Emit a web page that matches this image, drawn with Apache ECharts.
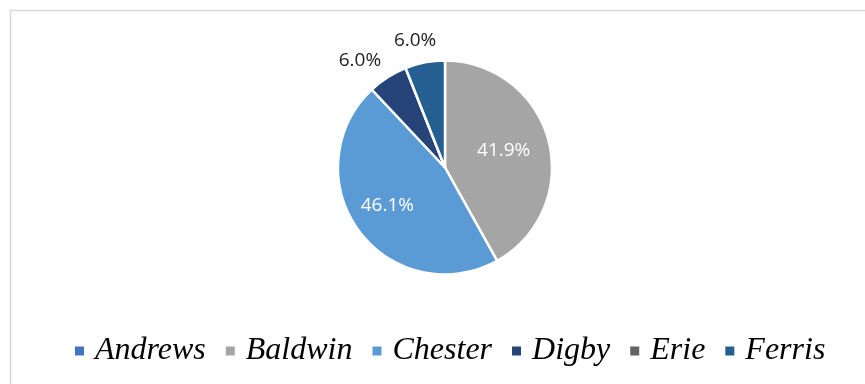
<!DOCTYPE html>
<html>
<head>
<meta charset="utf-8">
<script src="https://cdn.jsdelivr.net/npm/echarts@6/dist/echarts.min.js"></script>
<style>
  html, body { margin: 0; padding: 0; background: #fff; }
  #chart { width: 865px; height: 384px; }
</style>
</head>
<body>
<div id="chart"></div>
<script>
// company shares (percent)
var companies = ['Andrews', 'Baldwin', 'Chester', 'Digby', 'Erie', 'Ferris'];
var shares = [0, 41.9, 46.1, 6.0, 0, 6.0];
var colors = ['#4472C4', '#A5A5A5', '#5B9BD5', '#264478', '#636363', '#255E91'];

// label nudges: inside labels are white, outside ones dark
var insideLabels = { Baldwin: [4, -3], Chester: [-12, 5] };
var outsideLabels = { Digby: [6, -5], Ferris: [19, -8] };

var pieData = [];
for (var i = 0; i < companies.length; i++) {
    var name = companies[i];
    var item = {
        name: name,
        value: shares[i],
        itemStyle: { color: colors[i] }
    };
    if (shares[i] === 0) {
        item.label = { show: false };
    } else if (insideLabels[name]) {
        item.label = { position: 'inside', color: '#fff', offset: insideLabels[name] };
    } else {
        item.label = { position: 'outside', color: '#222', offset: outsideLabels[name] };
    }
    pieData.push(item);
}

var chart = echarts.init(document.getElementById('chart'));
var option = {
    animation: false,
    graphic: [{
        type: 'rect',
        shape: { x: 10.5, y: 10.5, width: 1000, height: 600 },
        style: { fill: 'none', stroke: '#d9d9d9', lineWidth: 1.5 },
        silent: true
    }],
    legend: {
        data: companies,
        top: 330,
        left: 68,
        icon: 'rect',
        itemWidth: 11,
        itemHeight: 11,
        itemGap: 18,
        textStyle: {
            fontFamily: 'Liberation Serif',
            fontStyle: 'italic',
            fontSize: 32,
            color: '#000',
            padding: [0, 0, 0, 5]
        }
    },
    series: [{
        type: 'pie',
        center: [445, 167.5],
        radius: 107,
        startAngle: 90,
        clockwise: true,
        minAngle: 0,
        avoidLabelOverlap: false,
        labelLayout: { hideOverlap: false },
        itemStyle: { borderColor: '#fff', borderWidth: 2.5 },
        label: {
            show: true,
            fontFamily: 'Open Sans',
            fontSize: 19,
            formatter: function (p) { return p.value.toFixed(1) + '%'; }
        },
        labelLine: { show: false, length: 14, length2: 0 },
        emphasis: { disabled: true },
        data: pieData
    }]
};
chart.setOption(option);
</script>
</body>
</html>
